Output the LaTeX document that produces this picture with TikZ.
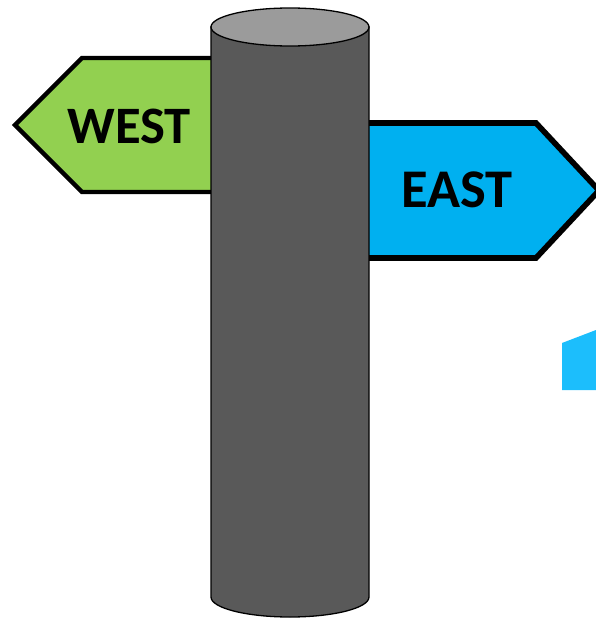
\documentclass[tikz,border=0pt]{standalone}
\usepackage{fontspec}
\setmainfont{Carlito}
\definecolor{westgreen}{HTML}{92D050}
\definecolor{eastblue}{HTML}{00B0F0}
\definecolor{postgrey}{HTML}{595959}
\definecolor{capgrey}{HTML}{9B9B9B}
\definecolor{pieceblue}{HTML}{1CBEFC}
\tikzset{
  signboard/.style={draw=black,line join=miter,miter limit=10},
  signlabel/.style={text=black,inner sep=0pt,anchor=base},
  postbody/.style={draw=black,line width=1.3pt,fill=postgrey},
  postcap/.style={draw=black,line width=1.3pt,fill=capgrey}
}
\begin{document}
\begin{tikzpicture}[x=1pt,y=-1pt]
\useasboundingbox (0,0) rectangle (596,618);
% west sign
\draw[signboard,line width=4.4pt,fill=westgreen] (230,58) -- (82,58) -- (15,125) -- (82,192) -- (230,192);
\node[signlabel,font=\fontsize{52.6}{52.6}\selectfont\bfseries] (west) at (129,143.5) {WEST};
% east sign
\draw[signboard,line width=5.6pt,fill=eastblue] (350,123) -- (536,123) -- (599,190.5) -- (536,258) -- (350,258);
\node[signlabel,font=\fontsize{54.5}{54.5}\selectfont\bfseries] (east) at (457,207.5) {EAST};
% blue fragment
\fill[pieceblue] (562,343) -- (596,330) -- (596,390) -- (562,390) -- cycle;
% post
\draw[postbody] (211,27) -- (211,597) arc[start angle=180,end angle=360,x radius=79,y radius=-20] -- (369,27) -- cycle;
\draw[postcap] (290,27) ellipse[x radius=79,y radius=19];
\end{tikzpicture}
\end{document}
